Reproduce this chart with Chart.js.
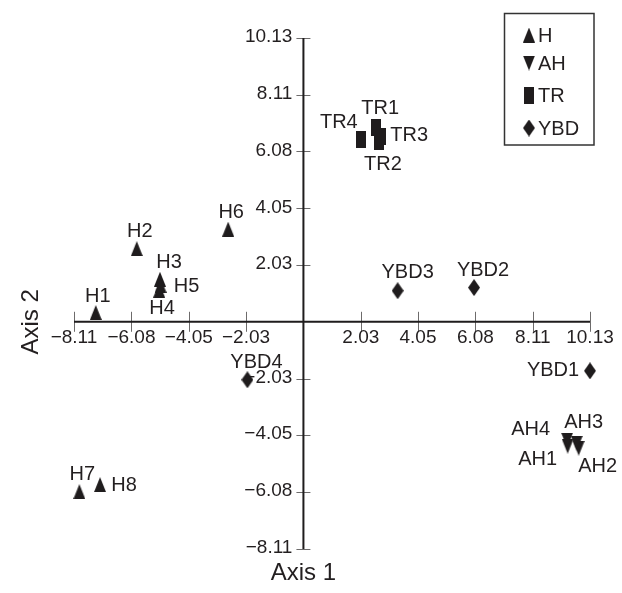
<!DOCTYPE html>
<html>
<head>
<meta charset="utf-8">
<script src="https://cdn.jsdelivr.net/npm/chart.js@4.4.1/dist/chart.umd.min.js"></script>
<style>
  html, body { margin: 0; padding: 0; background: #fff; }
  #wrap { width: 622px; height: 593px; }
</style>
</head>
<body>
<div id="wrap"><canvas id="chart" width="622" height="593"></canvas></div>
<script>
// --- DATA ---
const axisTicks = [-8.11, -6.08, -4.05, -2.03, 2.03, 4.05, 6.08, 8.11, 10.13];
const axisMin = -8.11;
const axisMax = 10.13;
const groupNames = ['H', 'AH', 'TR', 'YBD'];

const hNames = ['H1', 'H2', 'H3', 'H4', 'H5', 'H6', 'H7', 'H8'];
const hX = [-7.34, -5.89, -5.07, -5.10, -5.05, -2.66, -7.92, -7.19];
const hY = [0.33, 2.61, 1.52, 1.13, 1.30, 3.31, -6.06, -5.81];

const ahNames = ['AH1', 'AH2', 'AH3', 'AH4'];
const ahX = [9.34, 9.73, 9.66, 9.32];
const ahY = [-4.44, -4.51, -4.33, -4.22];

const trNames = ['TR1', 'TR2', 'TR3', 'TR4'];
const trX = [2.57, 2.67, 2.75, 2.03];
const trY = [6.92, 6.42, 6.60, 6.49];

const ybdNames = ['YBD1', 'YBD2', 'YBD3', 'YBD4'];
const ybdX = [10.13, 6.03, 3.33, -1.98];
const ybdY = [-1.75, 1.22, 1.11, -2.07];

// --- STYLE ---
const inkColor = '#1f1c1d';
const textColor = '#231f20';
const fontFamily = '"Liberation Sans", Arial, Helvetica, sans-serif';

// décalage des étiquettes (px) par rapport au point
const hLabelOff = [[2, -16], [3, -17], [9, -16.5], [3, 18], [26, 1], [3, -16.5], [3, -17], [24, 1]];
const ahLabelOff = [[-30, 13], [19, 18], [7, -20.5], [-36.5, -11]];
const trLabelOff = [[4, -19], [4, 23], [28, -1], [-22, -17.5]];
const ybdLabelOff = [[-37, 0], [9, -17], [10, -18], [9, -17]];

function toPoints(xs, ys) {
    return xs.map((x, i) => ({ x: x, y: ys[i] }));
}

// marqueurs dessinés sur petits canvas
function makeMarker(shape, w, h) {
    const c = document.createElement('canvas');
    c.width = w;
    c.height = h;
    const g = c.getContext('2d');
    g.fillStyle = inkColor;
    g.beginPath();
    if (shape === 'up') {
        g.moveTo(w / 2, 0); g.lineTo(w, h); g.lineTo(0, h);
    } else if (shape === 'down') {
        g.moveTo(0, 0); g.lineTo(w, 0); g.lineTo(w / 2, h);
    } else if (shape === 'diamond') {
        g.moveTo(w / 2, 0); g.lineTo(w, h / 2); g.lineTo(w / 2, h); g.lineTo(0, h / 2);
    } else {
        g.rect(0, 0, w, h);
    }
    g.closePath();
    g.fill();
    return c;
}

const markUp = makeMarker('up', 12, 15);
const markDown = makeMarker('down', 12, 15);
const markRect = makeMarker('rect', 10, 17);
const markDiamond = makeMarker('diamond', 12, 17);

function fmtTick(v) {
    return (v < 0 ? '\u2212' : '') + Math.abs(v).toFixed(2);
}

// --- AXES CROISÉS ---
const crossAxes = {
    id: 'crossAxes',
    beforeDatasetsDraw(chart) {
        const ctx = chart.ctx;
        const xs = chart.scales.x;
        const ys = chart.scales.y;
        const x0 = xs.getPixelForValue(0);
        const y0 = ys.getPixelForValue(0);
        const area = chart.chartArea;

        ctx.save();
        // ticks
        ctx.strokeStyle = '#6d6b6b';
        ctx.lineWidth = 1;
        axisTicks.forEach(v => {
            const px = Math.round(xs.getPixelForValue(v)) + 0.5;
            ctx.beginPath();
            ctx.moveTo(px, y0 - 10);
            ctx.lineTo(px, y0 + 10);
            ctx.stroke();
            const py = Math.round(ys.getPixelForValue(v)) + 0.5;
            ctx.beginPath();
            ctx.moveTo(x0 - 7, py);
            ctx.lineTo(x0 + 7, py);
            ctx.stroke();
        });

        // lignes d'axe
        ctx.strokeStyle = inkColor;
        ctx.lineWidth = 2;
        ctx.beginPath();
        ctx.moveTo(area.left, y0);
        ctx.lineTo(area.right, y0);
        ctx.moveTo(x0, area.top);
        ctx.lineTo(x0, area.bottom);
        ctx.stroke();

        // étiquettes des graduations
        ctx.fillStyle = textColor;
        ctx.font = '19px ' + fontFamily;
        ctx.textAlign = 'center';
        ctx.textBaseline = 'top';
        axisTicks.forEach(v => {
            ctx.fillText(fmtTick(v), xs.getPixelForValue(v), y0 + 6);
        });
        ctx.textAlign = 'right';
        ctx.textBaseline = 'middle';
        axisTicks.forEach(v => {
            ctx.fillText(fmtTick(v), x0 - 11, ys.getPixelForValue(v) - 1);
        });

        // titres d'axes
        ctx.font = '24px ' + fontFamily;
        ctx.textAlign = 'center';
        ctx.textBaseline = 'middle';
        ctx.fillText('Axis 1', x0, 573);
        ctx.translate(31, y0);
        ctx.rotate(-Math.PI / 2);
        ctx.fillText('Axis 2', 0, 0);
        ctx.restore();
    }
};

// --- ÉTIQUETTES DES POINTS + LÉGENDE ---
const pointLabels = {
    id: 'pointLabels',
    afterDatasetsDraw(chart) {
        const ctx = chart.ctx;
        ctx.save();
        ctx.font = '20px ' + fontFamily;
        ctx.fillStyle = textColor;
        ctx.textAlign = 'center';
        ctx.textBaseline = 'middle';
        chart.data.datasets.forEach((ds, i) => {
            const meta = chart.getDatasetMeta(i);
            meta.data.forEach((pt, j) => {
                const off = ds.labelOffsets[j];
                ctx.fillText(ds.names[j], pt.x + off[0], pt.y + off[1]);
            });
        });

        // légende encadrée
        ctx.strokeStyle = '#333';
        ctx.lineWidth = 1.5;
        ctx.strokeRect(504.5, 13.5, 89.5, 131.5);
        const rows = [35, 63, 95, 128];
        ctx.textAlign = 'left';
        chart.data.datasets.forEach((ds, i) => {
            const m = ds.pointStyle;
            ctx.drawImage(m, 529 - m.width / 2, rows[i] - m.height / 2);
            ctx.fillText(ds.label, 538, rows[i] + 1);
        });
        ctx.restore();
    }
};

const datasets = [
    { label: groupNames[0], names: hNames, labelOffsets: hLabelOff, data: toPoints(hX, hY), pointStyle: markUp },
    { label: groupNames[1], names: ahNames, labelOffsets: ahLabelOff, data: toPoints(ahX, ahY), pointStyle: markDown },
    { label: groupNames[2], names: trNames, labelOffsets: trLabelOff, data: toPoints(trX, trY), pointStyle: markRect },
    { label: groupNames[3], names: ybdNames, labelOffsets: ybdLabelOff, data: toPoints(ybdX, ybdY), pointStyle: markDiamond }
];
datasets.forEach(ds => { ds.clip = false; });

const chart = new Chart(document.getElementById('chart').getContext('2d'), {
    type: 'scatter',
    data: { datasets: datasets },
    options: {
        responsive: false,
        animation: false,
        layout: { padding: { left: 74, right: 32, top: 38, bottom: 44 } },
        scales: {
            x: { type: 'linear', min: axisMin, max: axisMax, display: false },
            y: { type: 'linear', min: axisMin, max: axisMax, display: false }
        },
        plugins: {
            legend: { display: false },
            tooltip: { enabled: false }
        }
    },
    plugins: [crossAxes, pointLabels]
});
</script>
</body>
</html>
